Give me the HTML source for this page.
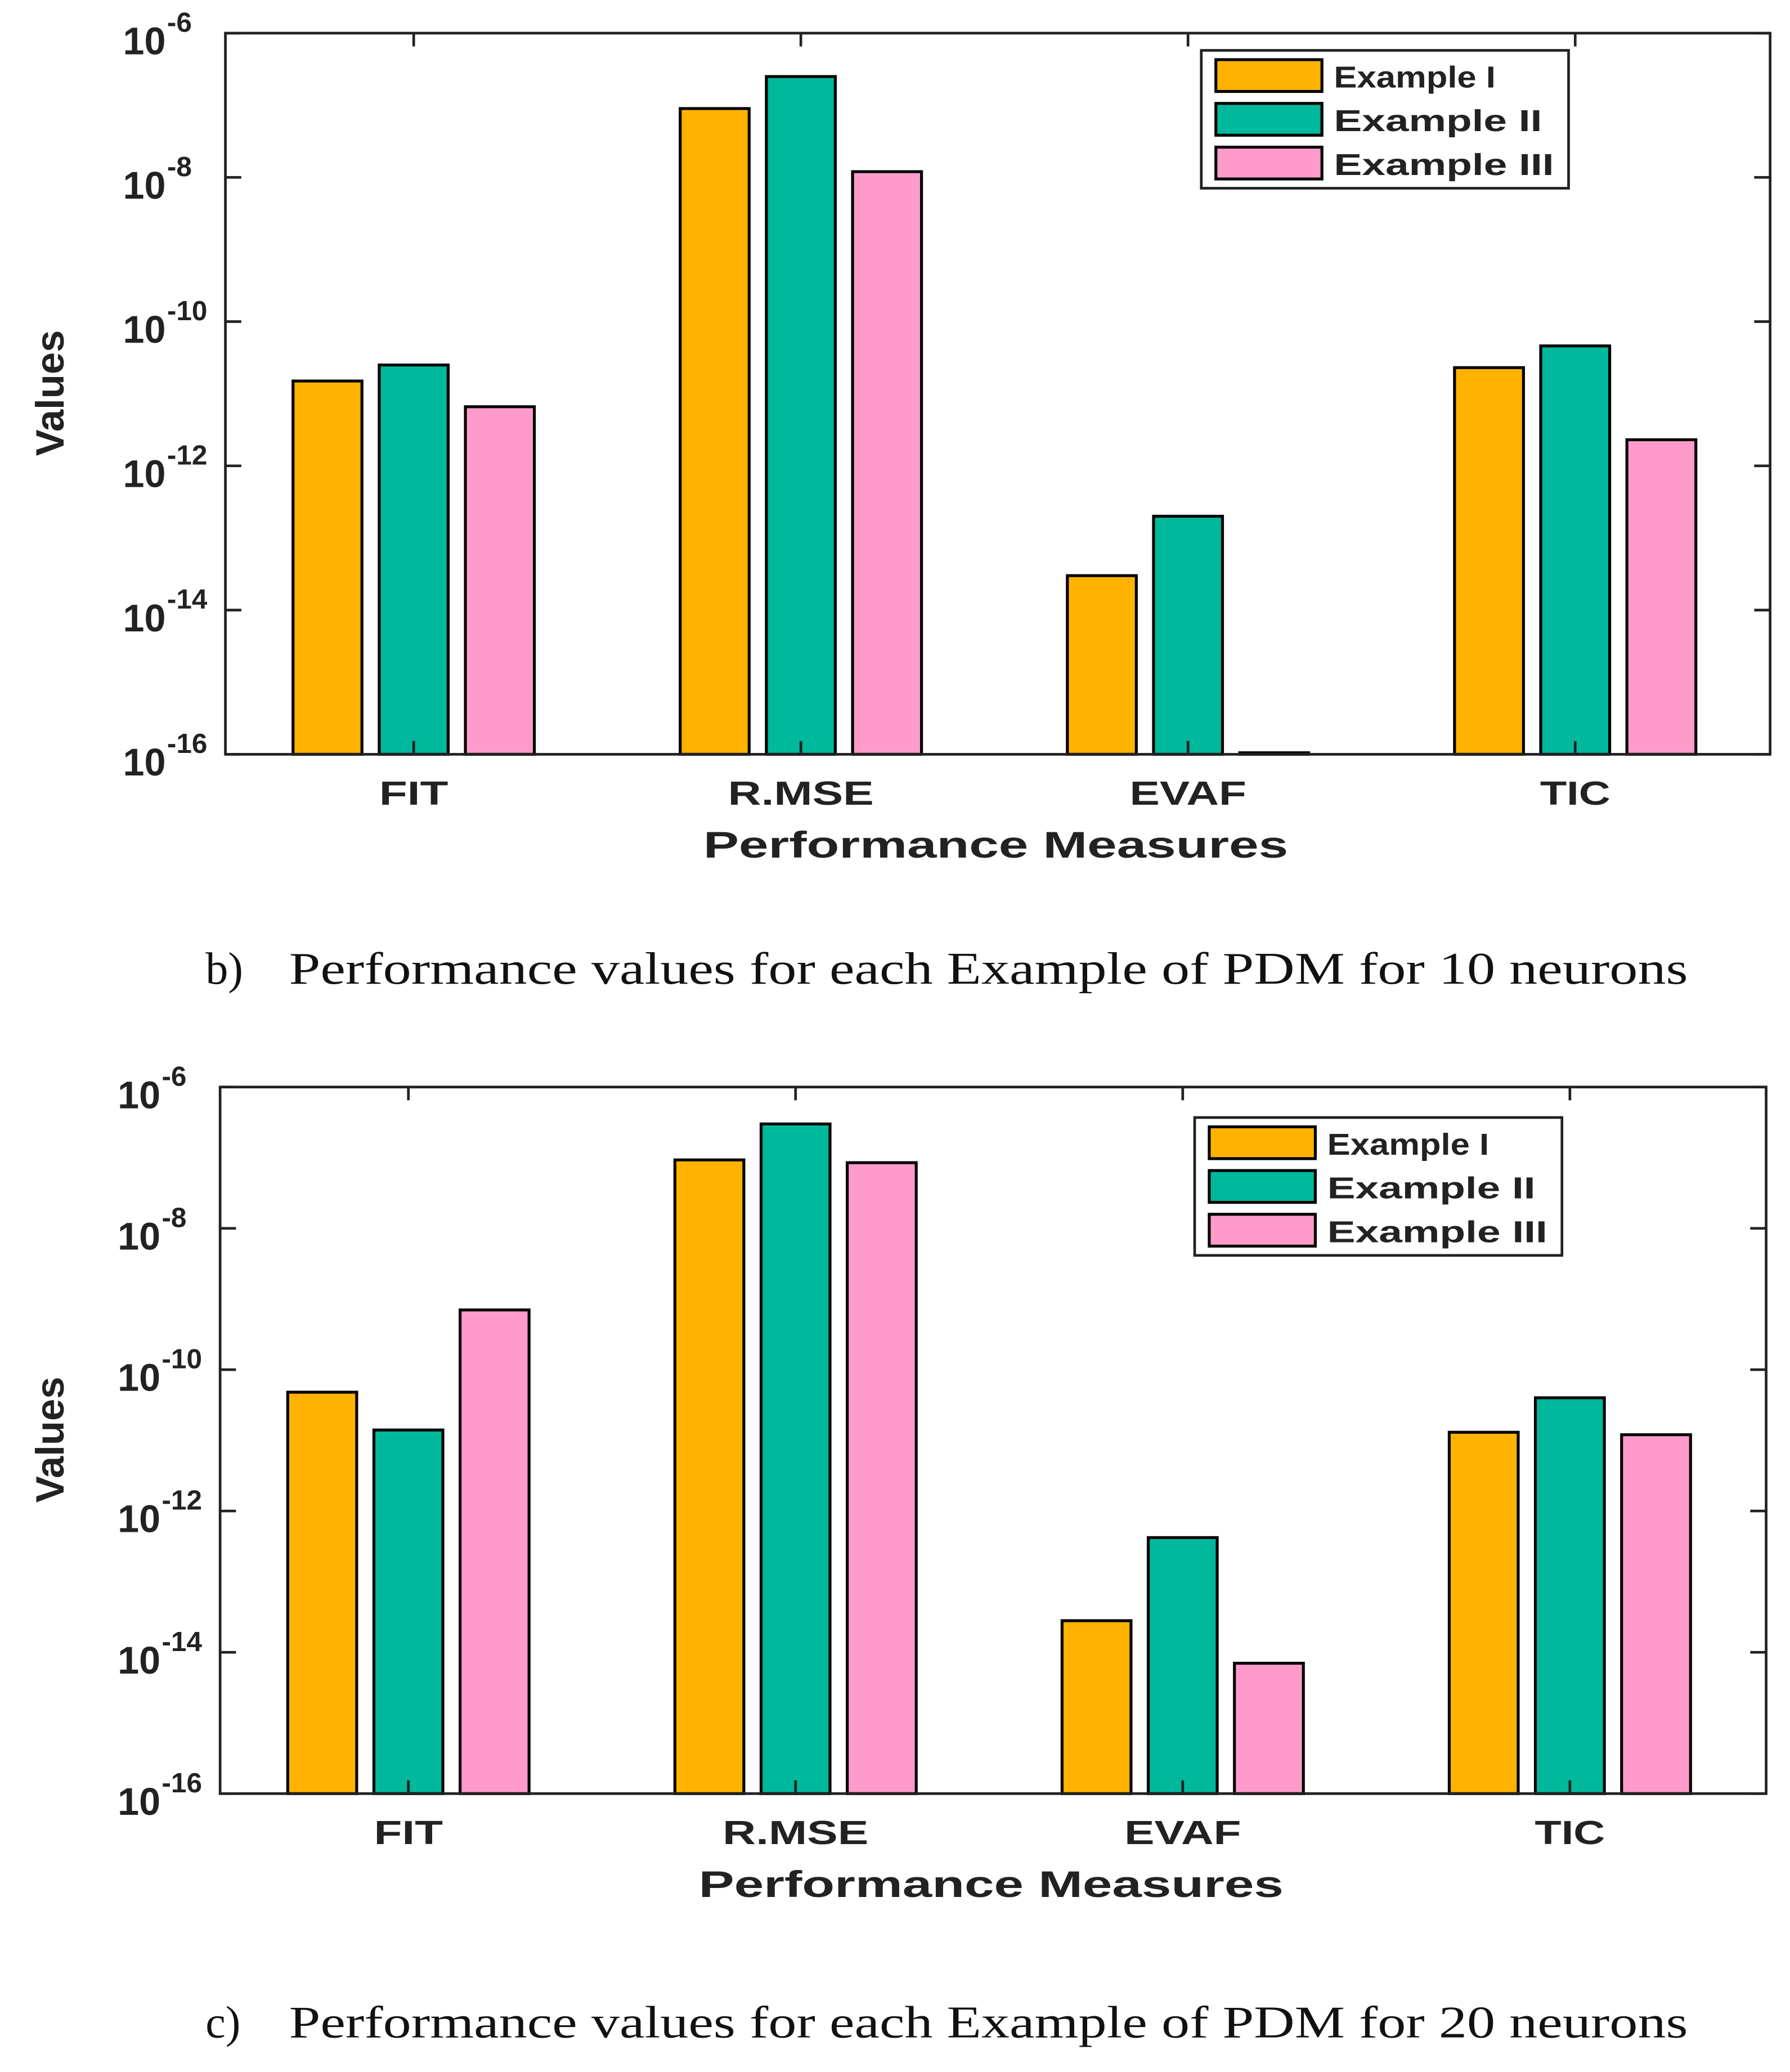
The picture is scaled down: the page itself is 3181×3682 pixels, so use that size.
<!DOCTYPE html>
<html><head><meta charset="utf-8"><style>
html,body{margin:0;padding:0;background:#fff;}
svg{display:block;}
text{font-family:"Liberation Sans",Arial,sans-serif;fill:#222;}
.cap{font-family:"Liberation Serif",serif;font-size:34px;fill:#111;}
</style></head><body>
<svg id="s" width="3181" height="3682" viewBox="0 0 1350 1563" preserveAspectRatio="none" xmlns="http://www.w3.org/2000/svg">
<text class="cap" x="155" y="742">b)</text>
<text class="cap" x="218" y="742" textLength="1055" lengthAdjust="spacingAndGlyphs">Performance values for each Example of PDM for 10 neurons</text>
<text class="cap" x="155" y="1537">c)</text>
<text class="cap" x="218" y="1537" textLength="1055" lengthAdjust="spacingAndGlyphs">Performance values for each Example of PDM for 20 neurons</text>
</svg>
<script>
const categories = ["FIT","R.MSE","EVAF","TIC"];
const seriesNames = ["Example I","Example II","Example III"];
const chart1ExI = [1.5e-11, 9e-8, 3e-14, 2.3e-11];
const chart1ExII = [2.5e-11, 2.5e-7, 2e-13, 4.6e-11];
const chart1ExIII = [6.6e-12, 1.2e-8, 1.05e-16, 2.3e-12];
const chart2ExI = [4.8e-11, 9.3e-8, 2.8e-14, 1.3e-11];
const chart2ExII = [1.4e-11, 3e-7, 4.2e-13, 4e-11];
const chart2ExIII = [7e-10, 8.5e-8, 7e-15, 1.2e-11];
const tickExponents = [-6,-8,-10,-12,-14,-16];

const colors = ["#FFB300","#00B89C","#FF9BCB"];
const catLen = [52,110,88,53];
const legLen = [122,157,166];
const NS = "http://www.w3.org/2000/svg";
const svg = document.getElementById("s");
function mk(tag, attrs, parent){const e=document.createElementNS(NS,tag);for(const k in attrs)e.setAttribute(k,attrs[k]);(parent||svg).appendChild(e);return e;}

function drawChart(id, box, legend, series){
  const g = mk("g",{});
  
  
  const {L,R,T,B} = box;
  const y = v => B - (Math.log10(v) + 16) / 10 * (B - T);
  const catW = 292, first = L + 142;
  const xc = i => first + i * catW;
  series.forEach((vals, s) => {
    vals.forEach((v, i) => {
      const cx = xc(i) + (s - 1) * 65;
      const r = mk("rect",{x:cx-26,y:y(v),width:52,height:B-y(v),fill:colors[s],stroke:"#000","stroke-width":2.2},g);
      
      
    });
  });
  const fr = mk("rect",{x:L,y:T,width:R-L,height:B-T,fill:"none",stroke:"#222","stroke-width":2},g);
  
  
  tickExponents.forEach(e => {
    const ty = y(Math.pow(10, e));
    mk("line",{x1:L,x2:L+12,y1:ty,y2:ty,stroke:"#222","stroke-width":2},g);
    mk("line",{x1:R,x2:R-12,y1:ty,y2:ty,stroke:"#222","stroke-width":2},g);
    const t = mk("text",{x:L-45,y:ty+16,"font-size":29,"font-weight":"bold","text-anchor":"end"},g);
    t.textContent = "10";
    
    
    const sup = mk("text",{x:L-44,y:ty-1,"font-size":21,"font-weight":"bold"},g);
    sup.textContent = String(e);
    
    
  });
  categories.forEach((c, i) => {
    mk("line",{x1:xc(i),x2:xc(i),y1:T,y2:T+10,stroke:"#222","stroke-width":2},g);
    mk("line",{x1:xc(i),x2:xc(i),y1:B,y2:B-10,stroke:"#222","stroke-width":2},g);
    const t = mk("text",{x:xc(i)-catLen[i]/2,y:B+38,"font-size":25,"font-weight":"bold",textLength:catLen[i],lengthAdjust:"spacingAndGlyphs"},g);
    t.textContent = c;
    
    
  });
  const xt = mk("text",{x:(L+R)/2-222,y:B+78,"font-size":28,"font-weight":"bold",textLength:441,lengthAdjust:"spacingAndGlyphs"},g);
  xt.textContent = "Performance Measures";
  
  
  const yt = mk("text",{x:-47,y:0,"font-size":30,"font-weight":"bold",textLength:95,lengthAdjust:"spacingAndGlyphs",transform:`translate(48,${(T+B)/2}) rotate(-90)`},g);
  yt.textContent = "Values";
  
  
  const lg = mk("g",{},g);
  
  
  mk("rect",{x:legend.x,y:legend.y,width:277,height:104,fill:"#fff",stroke:"#222","stroke-width":2},lg);
  seriesNames.forEach((n, s) => {
    const ey = legend.y + 7 + s * 33;
    const sw = mk("rect",{x:legend.x+11,y:ey,width:80,height:24,fill:colors[s],stroke:"#000","stroke-width":2.2},lg);
    
    
    const t = mk("text",{x:legend.x+100,y:ey+21,"font-size":23,"font-weight":"bold",fill:"#000",textLength:legLen[s],lengthAdjust:"spacingAndGlyphs"},lg);
    t.textContent = n;
    
    
  });
}
drawChart("chart-10-neurons",{L:170,R:1335,T:25,B:569},{x:906,y:38},[chart1ExI,chart1ExII,chart1ExIII]);
drawChart("chart-20-neurons",{L:166,R:1332,T:820,B:1353},{x:901,y:843},[chart2ExI,chart2ExII,chart2ExIII]);
</script>
</body></html>
